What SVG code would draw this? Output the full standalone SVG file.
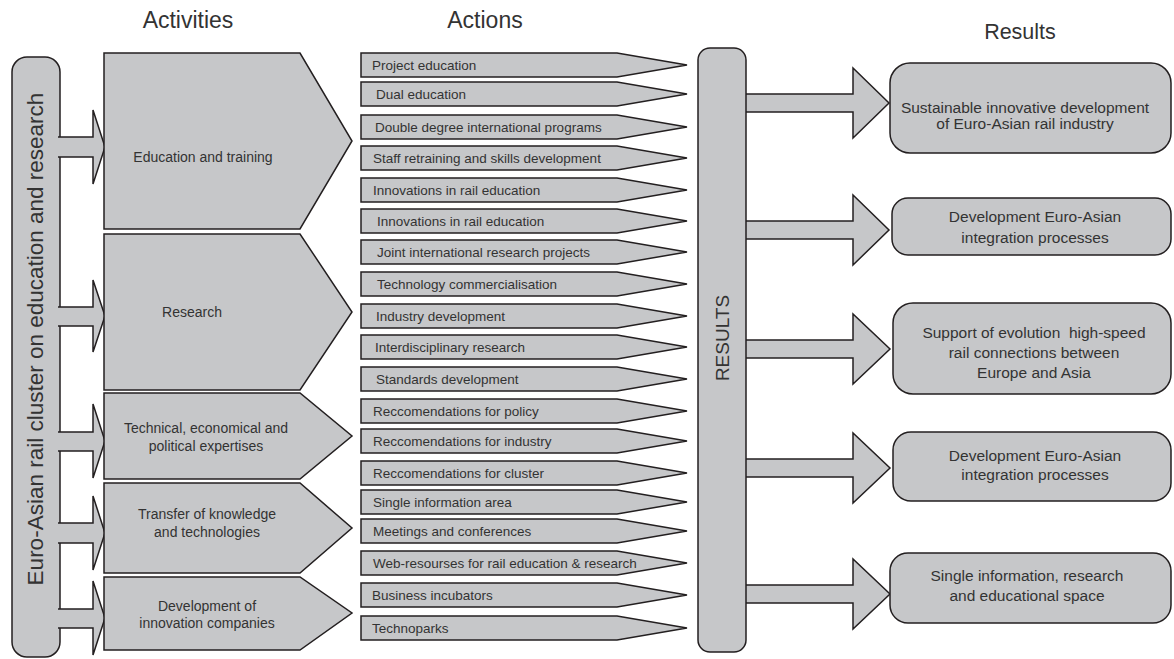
<svg xmlns="http://www.w3.org/2000/svg" width="1174" height="659" viewBox="0 0 1174 659">
<style>
.s{fill:#c6c7c9;stroke:#231f20;stroke-width:1.5;stroke-linejoin:miter}
.t{font-family:"Liberation Sans",Arial,sans-serif;fill:#333;}
.h{font-size:23px}
.a{font-size:14px}
.c{font-size:13.5px}
.r{font-size:15.5px;text-anchor:middle}
.m{text-anchor:middle}
</style>
<rect width="1174" height="659" fill="#fff"/>
<g id="headers">
<text class="t h m" x="188" y="28">Activities</text>
<text class="t h m" x="485" y="28">Actions</text>
<text class="t m" style="font-size:21.5px" x="1020" y="39">Results</text>
</g>
<g id="cluster">
<rect class="s" x="12" y="57" width="48" height="600" rx="15"/>
<text class="t m" style="font-size:22.5px" transform="translate(43,339) rotate(-90)">Euro-Asian rail cluster on education and research</text>
</g>
<g id="connectors">
<path class="s" d="M58,137 L93,137 L93,110 L105,147 L93,184 L93,157 L58,157"/>
<path class="s" d="M58,307 L93,307 L93,280 L105,316 L93,352 L93,326 L58,326"/>
<path class="s" d="M58,432 L93,432 L93,404 L105,441 L93,478 L93,451 L58,451"/>
<path class="s" d="M58,523 L93,523 L93,496 L105,533 L93,570 L93,543 L58,543"/>
<path class="s" d="M58,609 L93,609 L93,581 L105,618 L93,655 L93,628 L58,628"/>
<path class="s" d="M744,94 L853,94 L853,68 L889,103 L853,138 L853,112 L744,112"/>
<path class="s" d="M744,221 L853,221 L853,195 L889,230 L853,265 L853,239 L744,239"/>
<path class="s" d="M744,340 L853,340 L853,314 L890,349 L853,384 L853,358 L744,358"/>
<path class="s" d="M744,459 L853,459 L853,433 L890,468 L853,503 L853,477 L744,477"/>
<path class="s" d="M744,585 L853,585 L853,559 L890,594 L853,629 L853,603 L744,603"/>
</g>
<g id="act-education">
<polygon class="s" points="104,53 300,53 352,141 300,229 104,229"/>
<text class="t a m" x="203" y="162">Education and training</text>
</g>
<g id="act-research">
<polygon class="s" points="104,234 300,234 352,312 300,390 104,390"/>
<text class="t a m" x="192" y="317">Research</text>
</g>
<g id="act-expertises">
<polygon class="s" points="104,393 300,393 352,436 300,479 104,479"/>
<text class="t a m" x="206" y="433">Technical, economical and</text>
<text class="t a m" x="206" y="451">political expertises</text>
</g>
<g id="act-transfer">
<polygon class="s" points="104,483 300,483 352,528 300,573 104,573"/>
<text class="t a m" x="207" y="519">Transfer of knowledge</text>
<text class="t a m" x="207" y="537">and technologies</text>
</g>
<g id="act-innovation">
<polygon class="s" points="104,577 300,577 352,613 300,650 104,650"/>
<text class="t a m" x="207" y="611">Development of</text>
<text class="t a m" x="207" y="628">innovation companies</text>
</g>
<g id="actions">
<g id="ac1"><polygon class="s" points="361,53 617,53 687,65 617,77 361,77"/><text class="t c" x="372" y="70">Project education</text></g>
<g id="ac2"><polygon class="s" points="361,82 617,82 687,94 617,106 361,106"/><text class="t c" x="376" y="99">Dual education</text></g>
<g id="ac3"><polygon class="s" points="361,115 617,115 687,127 617,139 361,139"/><text class="t c" x="375" y="132">Double degree international programs</text></g>
<g id="ac4"><polygon class="s" points="361,146 617,146 687,158 617,170 361,170"/><text class="t c" x="373" y="163">Staff retraining and skills development</text></g>
<g id="ac5"><polygon class="s" points="361,178 617,178 687,190 617,202 361,202"/><text class="t c" x="373" y="195">Innovations in rail education</text></g>
<g id="ac6"><polygon class="s" points="361,209 617,209 687,221 617,233 361,233"/><text class="t c" x="377" y="226">Innovations in rail education</text></g>
<g id="ac7"><polygon class="s" points="361,240 617,240 687,252 617,264 361,264"/><text class="t c" x="377" y="257">Joint international research projects</text></g>
<g id="ac8"><polygon class="s" points="361,272 617,272 687,284 617,296 361,296"/><text class="t c" x="377" y="289">Technology commercialisation</text></g>
<g id="ac9"><polygon class="s" points="361,304 617,304 687,316 617,328 361,328"/><text class="t c" x="376" y="321">Industry development</text></g>
<g id="ac10"><polygon class="s" points="361,335 617,335 687,347 617,359 361,359"/><text class="t c" x="375" y="352">Interdisciplinary research</text></g>
<g id="ac11"><polygon class="s" points="361,367 617,367 687,379 617,391 361,391"/><text class="t c" x="376" y="384">Standards development</text></g>
<g id="ac12"><polygon class="s" points="361,399 617,399 687,411 617,423 361,423"/><text class="t c" x="373" y="416">Reccomendations for policy</text></g>
<g id="ac13"><polygon class="s" points="361,429 617,429 687,441 617,453 361,453"/><text class="t c" x="373" y="446">Reccomendations for industry</text></g>
<g id="ac14"><polygon class="s" points="361,461 617,461 687,473 617,485 361,485"/><text class="t c" x="373" y="478">Reccomendations for cluster</text></g>
<g id="ac15"><polygon class="s" points="361,490 617,490 687,502 617,514 361,514"/><text class="t c" x="373" y="507">Single information area</text></g>
<g id="ac16"><polygon class="s" points="361,519 617,519 687,531 617,543 361,543"/><text class="t c" x="373" y="536">Meetings and conferences</text></g>
<g id="ac17"><polygon class="s" points="361,551 617,551 687,563 617,575 361,575"/><text class="t c" x="373" y="568">Web-resourses for rail education &amp; research</text></g>
<g id="ac18"><polygon class="s" points="361,583 617,583 687,595 617,607 361,607"/><text class="t c" x="372" y="600">Business incubators</text></g>
<g id="ac19"><polygon class="s" points="361,616 617,616 687,628 617,640 361,640"/><text class="t c" x="372" y="633">Technoparks</text></g>
</g>
<g id="results-bar">
<rect class="s" x="698" y="48" width="48" height="604" rx="12"/>
<text class="t m" style="font-size:19px" transform="translate(729,338) rotate(-90)">RESULTS</text>
</g>
<g id="res1">
<rect class="s" x="890" y="63" width="281" height="90" rx="20"/>
<text class="t r" x="1025" y="113">Sustainable innovative development</text>
<text class="t r" x="1025" y="129">of Euro-Asian rail industry</text>
</g>
<g id="res2">
<rect class="s" x="892" y="198" width="279" height="57" rx="16"/>
<text class="t r" x="1035" y="222">Development Euro-Asian</text>
<text class="t r" x="1035" y="243">integration processes</text>
</g>
<g id="res3">
<rect class="s" x="893" y="303" width="278" height="91" rx="20"/>
<text class="t r" x="1034" y="338" xml:space="preserve" style="white-space:pre">Support of evolution  high-speed</text>
<text class="t r" x="1034" y="358">rail connections between</text>
<text class="t r" x="1034" y="378">Europe and Asia</text>
</g>
<g id="res4">
<rect class="s" x="893" y="432" width="278" height="69" rx="18"/>
<text class="t r" x="1035" y="461">Development Euro-Asian</text>
<text class="t r" x="1035" y="480">integration processes</text>
</g>
<g id="res5">
<rect class="s" x="890" y="553" width="281" height="70" rx="18"/>
<text class="t r" x="1027" y="581">Single information, research</text>
<text class="t r" x="1027" y="601">and educational space</text>
</g>
</svg>
